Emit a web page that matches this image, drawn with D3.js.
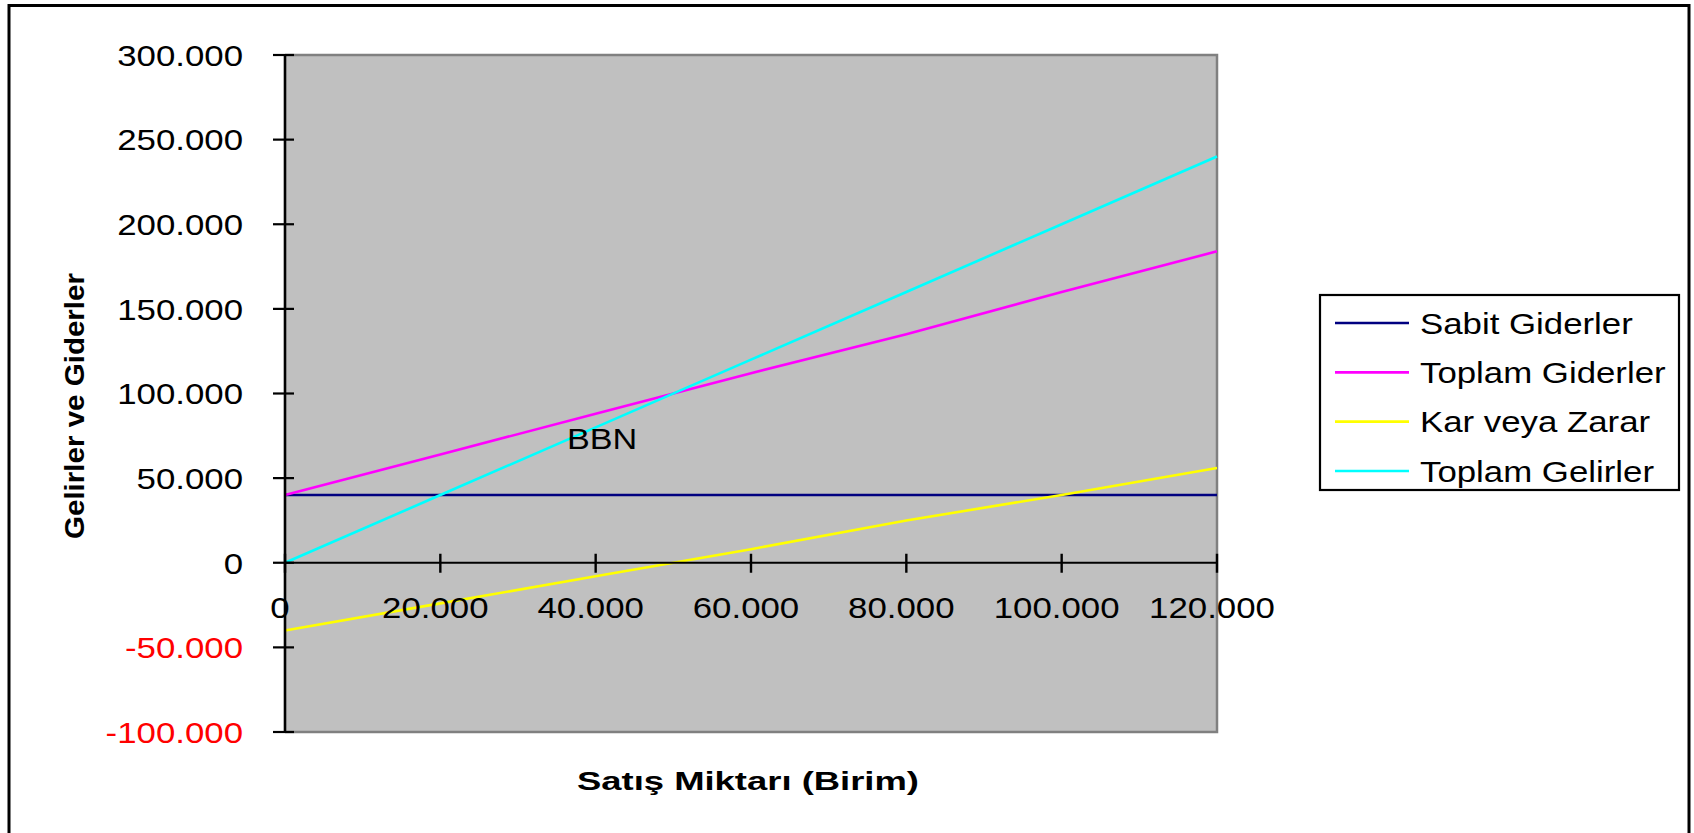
<!DOCTYPE html>
<html>
<head>
<meta charset="utf-8">
<script src="https://cdn.jsdelivr.net/npm/d3@7"></script>
<style>
  html, body { margin: 0; padding: 0; background: #ffffff; }
  svg { display: block; }
  text { font-family: "Liberation Sans", Arial, sans-serif; }
</style>
</head>
<body>
<svg id="chart" width="1694" height="833"></svg>
<script>
// Sales volume (units) at which each series is evaluated
const units = [0, 20000, 40000, 60000, 80000, 100000, 120000];

// Series values
const sabitGiderler   = [40000, 40000, 40000, 40000, 40000, 40000, 40000];
const toplamGiderler  = [40000, 64000, 88000, 112000, 135000, 160000, 184000];
const karVeyaZarar    = [-40000, -24000, -8000, 8000, 25000, 40000, 56000];
const toplamGelirler  = [0, 40000, 80000, 120000, 160000, 200000, 240000];

const seriesNames  = ["Sabit Giderler", "Toplam Giderler", "Kar veya Zarar", "Toplam Gelirler"];
const seriesColors = ["#000080", "#ff00ff", "#ffff00", "#00ffff"];

// Axis ticks
const xTickValues = [0, 20000, 40000, 60000, 80000, 100000, 120000];
const yTickValues = [-100000, -50000, 0, 50000, 100000, 150000, 200000, 250000, 300000];

// Break-even annotation
const bbnLabel = "BBN";
const bbnPoint = [36300, 67400];

const trLocale = d3.formatLocale({
  decimal: ",", thousands: ".", grouping: [3], currency: ["", " TL"], minus: "-"
});
const fmt = trLocale.format(",");

const svg = d3.select("#chart");
const STRETCH = 1.16;

const plot = { left: 285, right: 1217, top: 55, bottom: 732 };
const x = d3.scaleLinear().domain([0, 120000]).range([plot.left, plot.right]);
const y = d3.scaleLinear().domain([-100000, 300000]).range([plot.bottom, plot.top]);

// Widen glyphs horizontally to the chart's wide lettering
function widen(sel, k) {
  sel.each(function () {
    const len = this.getComputedTextLength();
    d3.select(this).attr("textLength", len * k).attr("lengthAdjust", "spacingAndGlyphs");
  });
}

// Outer frame
svg.append("rect")
  .attr("x", 9).attr("y", 5.5)
  .attr("width", 1680).attr("height", 840)
  .attr("fill", "#ffffff").attr("stroke", "#000000").attr("stroke-width", 3);

// Plot background
svg.append("rect")
  .attr("x", plot.left).attr("y", plot.top)
  .attr("width", plot.right - plot.left).attr("height", plot.bottom - plot.top)
  .attr("fill", "#c0c0c0");

// Plot border (top, right, bottom) in grey
svg.append("path")
  .attr("d", `M${plot.left},${plot.top}H${plot.right}V${plot.bottom}H${plot.left}`)
  .attr("fill", "none").attr("stroke", "#808080").attr("stroke-width", 2.5);

// Series lines
const seriesData = [sabitGiderler, toplamGiderler, karVeyaZarar, toplamGelirler];
const line = d3.line().x((d, i) => x(units[i])).y(d => y(d));
seriesData.forEach((vals, k) => {
  svg.append("path")
    .datum(vals)
    .attr("d", line)
    .attr("fill", "none")
    .attr("stroke", seriesColors[k])
    .attr("stroke-width", 2.6)
    .attr("stroke-linejoin", "round");
});

// Y axis with crossing ticks
const yAxis = svg.append("g").attr("transform", `translate(${x(0)},0)`);
yAxis.append("line")
  .attr("x1", 0).attr("x2", 0).attr("y1", plot.top).attr("y2", plot.bottom)
  .attr("stroke", "#000").attr("stroke-width", 2.6);
yAxis.selectAll("line.tick").data(yTickValues).join("line")
  .attr("class", "tick")
  .attr("x1", -12).attr("x2", 9)
  .attr("y1", d => y(d)).attr("y2", d => y(d))
  .attr("stroke", "#000").attr("stroke-width", 2.2);
const yLabels = svg.append("g").selectAll("text").data(yTickValues).join("text")
  .attr("x", 243).attr("y", d => y(d))
  .attr("dy", "0.36em")
  .attr("text-anchor", "end")
  .attr("font-size", 30)
  .attr("fill", d => d < 0 ? "#ff0000" : "#000000")
  .text(d => fmt(d));
widen(yLabels, STRETCH);

// X axis along zero with crossing ticks
const xAxis = svg.append("g").attr("transform", `translate(0,${y(0)})`);
xAxis.append("line")
  .attr("x1", plot.left).attr("x2", plot.right).attr("y1", 0).attr("y2", 0)
  .attr("stroke", "#000").attr("stroke-width", 2.2);
xAxis.selectAll("line.tick").data(xTickValues).join("line")
  .attr("class", "tick")
  .attr("x1", d => x(d)).attr("x2", d => x(d))
  .attr("y1", -9).attr("y2", 10)
  .attr("stroke", "#000").attr("stroke-width", 2.4);
const xLabels = svg.append("g").selectAll("text").data(xTickValues).join("text")
  .attr("x", d => x(d) - 5).attr("y", 618)
  .attr("text-anchor", "middle")
  .attr("font-size", 30)
  .attr("fill", "#000")
  .text(d => fmt(d));
widen(xLabels, STRETCH);

// Break-even label
const bbn = svg.append("text")
  .attr("x", x(bbnPoint[0])).attr("y", y(bbnPoint[1]))
  .attr("font-size", 30).attr("fill", "#000")
  .text(bbnLabel);
widen(bbn, 1.14);

// Axis titles
svg.append("text")
  .attr("x", 748).attr("y", 790)
  .attr("text-anchor", "middle")
  .attr("font-size", 25).attr("font-weight", "bold")
  .attr("textLength", 342).attr("lengthAdjust", "spacingAndGlyphs")
  .text("Satış Miktarı (Birim)");

svg.append("text")
  .attr("transform", "translate(84,406) rotate(-90)")
  .attr("text-anchor", "middle")
  .attr("font-size", 28).attr("font-weight", "bold")
  .attr("textLength", 266).attr("lengthAdjust", "spacingAndGlyphs")
  .text("Gelirler ve Giderler");

// Legend
const legend = svg.append("g");
legend.append("rect")
  .attr("x", 1320).attr("y", 295).attr("width", 359).attr("height", 195)
  .attr("fill", "#ffffff").attr("stroke", "#000").attr("stroke-width", 2.2);
const rowY = d3.scalePoint().domain(seriesNames).range([323, 471]);
const rows = legend.selectAll("g.row").data(seriesNames).join("g")
  .attr("class", "row")
  .attr("transform", d => `translate(0,${rowY(d)})`);
rows.append("line")
  .attr("x1", 1335).attr("x2", 1409).attr("y1", 0).attr("y2", 0)
  .attr("stroke", (d, i) => seriesColors[i]).attr("stroke-width", 2.6);
const legendText = rows.append("text")
  .attr("x", 1420).attr("y", 0).attr("dy", "0.36em")
  .attr("font-size", 30).attr("fill", "#000")
  .text(d => d);
widen(legendText, STRETCH);
</script>
</body>
</html>
